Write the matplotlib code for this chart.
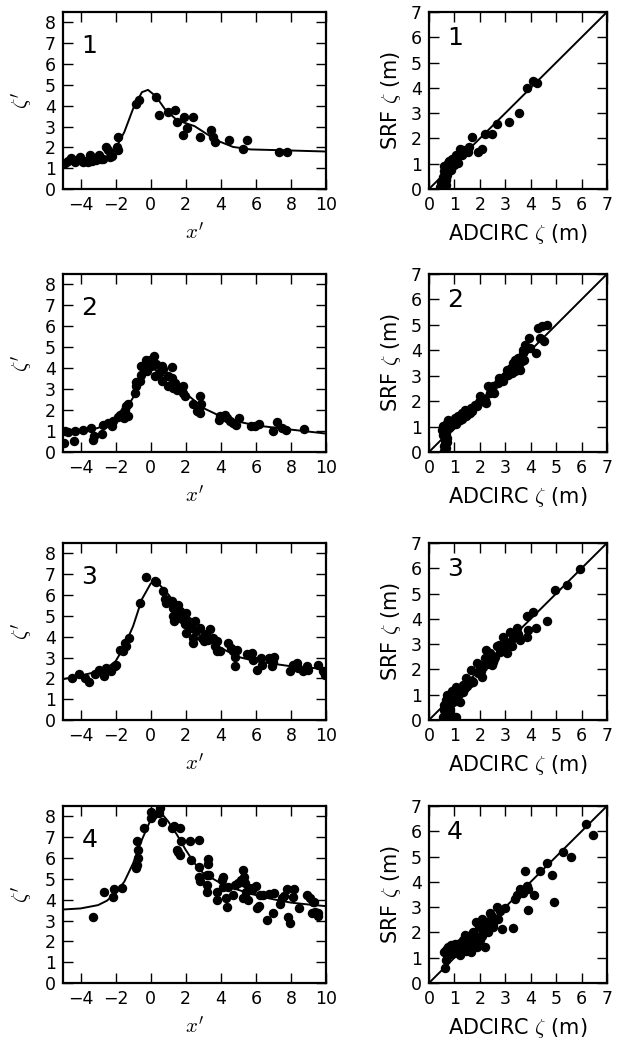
import numpy as np
import matplotlib
matplotlib.use("Agg")
import matplotlib.pyplot as plt

plt.rcParams['font.family'] = ['DejaVu Sans']
plt.rcParams['mathtext.fontset'] = 'cm'

# ---- left column: normalized surge zeta' vs x' (points + fitted curve)
p1_x = [-4.87, -4.52, -4.33, -4.05, -3.86, -3.71, -3.44, -3.32, -3.1, -2.96, -2.81, -2.56, -2.43, -2.33,
        -2.18, -1.92, -1.86, -1.86, -0.81, -0.66, 0.33, 0.48, 1.0, 1.38, 1.48, 1.82, 1.89, 2.08, 2.42,
        2.81, 3.43, 3.57, 3.66, 4.48, 5.28, 5.51, 7.34, 7.79, -4.7, -4.2, -3.55, -3.18, -2.7]
p1_y = [1.27, 1.51, 1.31, 1.55, 1.31, 1.35, 1.63, 1.35, 1.39, 1.63, 1.42, 2.02, 1.86, 1.55,
        1.58, 2.02, 2.5, 1.86, 4.1, 4.29, 4.41, 3.57, 3.7, 3.78, 3.22, 2.58, 3.46, 2.95, 3.46,
        2.5, 2.85, 2.5, 2.26, 2.37, 1.94, 2.37, 1.78, 1.78, 1.35, 1.4, 1.3, 1.5, 1.45]
c1_x = [-5, -4, -3, -2.5, -2, -1.5, -1, -0.5, -0.15, 0.3, 0.8, 1.5, 2.5, 3.0, 3.75, 4.7, 5.7, 7.5, 10]
c1_y = [1.2, 1.3, 1.4, 1.5, 1.94, 2.74, 3.86, 4.65, 4.76, 4.45, 3.85, 3.3, 3.02, 2.75, 2.34, 2.02, 1.9, 1.86, 1.8]

p2_x = [-4.96, -4.9, -4.71, -4.39, -4.33, -3.86, -3.38, -3.29, -3.25, -2.75, -2.72, -2.43, -2.18, -2.14,
        -1.86, -1.76, -1.57, -1.48, -1.38, -1.29, -1.54, -1.29, -0.91, -0.81, -0.85, -0.62, -0.53, -0.53,
        -0.28, -0.24, -0.2, -0.05, 0.04, 0.18, 0.18, 0.23, 0.33, 0.48, 0.62, 0.71, 0.67, 1.0, 1.0, 1.19,
        1.19, 1.28, 1.38, 1.48, 1.82, 1.85, 1.95, 2.39, 2.65, 2.77, 2.8, 2.86, 2.8, 3.91, 3.98, 4.23,
        4.38, 4.52, 4.71, 4.86, 5.05, 5.7, 5.95, 6.19, 6.96, 7.22, 7.47, 7.72, 8.74]
p2_y = [0.43, 0.99, 0.94, 0.51, 0.99, 1.07, 1.15, 0.59, 0.75, 0.88, 1.31, 1.39, 1.23, 1.47,
        1.67, 1.78, 1.86, 2.02, 2.18, 2.31, 1.63, 1.7, 2.82, 3.14, 3.33, 3.38, 3.7, 4.13,
        4.41, 4.1, 3.86, 4.41, 4.1, 4.57, 4.25, 3.62, 4.18, 3.78, 4.1, 3.94, 3.38, 3.62, 3.14, 4.06,
        3.54, 3.06, 3.3, 2.98, 3.14, 2.82, 2.69, 2.31, 1.94, 2.1, 2.66, 2.31, 1.86, 1.55, 1.71, 1.78,
        1.63, 1.47, 1.39, 1.31, 1.63, 1.23, 1.26, 1.35, 0.99, 1.42, 1.15, 1.04, 1.1]
c2_x = [-5, -4, -3, -2, -1.5, -1, -0.5, 0, 0.5, 1, 2, 3, 4, 5, 6, 8, 10]
c2_y = [0.8, 0.95, 1.15, 1.55, 1.95, 2.6, 3.5, 4.0, 3.85, 3.45, 2.8, 2.1, 1.7, 1.45, 1.27, 1.07, 0.88]

p3_x = [-4.47, -4.09, -3.76, -3.52, -3.19, -2.94, -2.68, -2.56, -2.24, -2.05, -1.95, -1.73, -1.57, -1.48,
        -1.38, -1.23, -0.62, -0.24, 0.23, 0.33, 0.71, 0.84, 0.9, 1.19, 1.28, 1.28, 1.32, 1.48, 1.57, 1.66,
        1.76, 1.95, 2.0, 2.04, 2.14, 2.23, 2.39, 2.42, 2.52, 2.61, 2.81, 2.9, 3.03, 3.15, 3.28, 3.38,
        3.57, 3.66, 3.76, 3.8, 3.95, 4.42, 4.56, 4.71, 4.8, 4.8, 4.9, 5.47, 5.76, 5.81, 6.08, 6.27,
        6.33, 6.77, 6.9, 7.03, 6.99, 7.94, 8.14, 8.33, 8.71, 8.9, 9.0, 9.56, 9.85, 9.94, 8.42]
p3_y = [2.01, 2.22, 2.01, 1.82, 2.22, 2.42, 2.09, 2.5, 2.33, 2.58, 2.66, 3.38, 3.3, 3.7,
        3.54, 3.95, 5.64, 6.89, 6.68, 6.63, 6.2, 5.8, 5.6, 5.72, 5.39, 4.99, 4.75, 5.15, 5.51, 5.23,
        4.83, 4.59, 5.15, 4.19, 4.75, 4.43, 3.95, 3.7, 4.75, 4.27, 4.43, 3.95, 3.78, 4.11, 3.86, 4.35,
        3.95, 3.54, 3.78, 3.3, 3.3, 3.7, 3.46, 3.3, 3.03, 2.58, 3.38, 3.19, 3.22, 2.9, 2.38, 2.98,
        2.66, 2.98, 2.58, 3.03, 2.77, 2.33, 2.66, 2.74, 2.33, 2.58, 2.42, 2.66, 2.33, 2.17, 2.5]
c3_x = [-5, -4, -3, -2.5, -2, -1.5, -1, -0.5, 0, 0.15, 0.5, 1, 1.5, 2, 3, 4, 5, 6, 8, 10]
c3_y = [1.96, 2.13, 2.33, 2.5, 2.82, 3.54, 4.51, 5.8, 6.55, 6.65, 6.5, 6.04, 5.48, 4.91, 4.11, 3.46, 3.03, 2.82, 2.58, 2.45]

p4_x = [-3.29, -2.68, -2.14, -2.11, -1.63, -0.81, -0.77, -0.72, -0.77, -0.7, -0.39, 0.01, 0.04, 0.14,
        0.48, 0.56, 0.67, 1.19, 1.32, 1.66, 1.48, 1.57, 1.7, 1.72, 2.23, 2.29, 2.77, 2.77, 2.77, 2.81,
        3.19, 3.23, 3.19, 3.28, 3.28, 3.34, 3.76, 3.76, 4.04, 4.1, 4.14, 4.29, 4.33, 4.42, 4.71, 4.8,
        5.0, 5.13, 5.24, 5.32, 5.38, 5.28, 5.43, 5.57, 5.62, 5.76, 5.85, 6.0, 6.04, 6.19, 6.23, 6.42,
        6.61, 6.76, 6.99, 7.03, 7.37, 7.47, 7.6, 7.75, 7.85, 7.94, 8.14, 8.17, 8.48, 8.9, 9.09, 9.24,
        9.18, 9.37, 9.56, 9.56, 9.32]
p4_y = [3.15, 4.39, 4.14, 4.5, 4.58, 5.51, 5.67, 5.99, 6.8, 6.39, 7.44, 8.21, 7.92, 8.05,
        8.14, 8.4, 7.71, 7.44, 7.52, 7.44, 6.39, 6.27, 6.15, 6.8, 6.8, 5.91, 6.85, 5.59, 5.11, 4.92,
        5.19, 4.71, 4.39, 5.94, 5.72, 5.19, 4.39, 3.98, 4.95, 5.11, 4.63, 4.06, 3.66, 4.63, 4.22, 4.71,
        4.79, 4.95, 5.43, 5.11, 4.79, 4.06, 4.39, 3.98, 4.55, 4.47, 4.55, 4.66, 3.58, 3.69, 4.22, 4.22,
        3.02, 4.27, 3.34, 4.31, 3.79, 4.06, 4.18, 4.5, 3.18, 2.89, 4.11, 4.5, 3.58, 4.22, 4.06, 3.9,
        3.37, 3.42, 3.37, 3.21, 3.9]
c4_x = [-5, -4, -3, -2.5, -2, -1.5, -1, -0.5, 0, 0.48, 1, 1.5, 2, 2.5, 3, 4, 5, 6, 7, 8, 9, 10]
c4_y = [3.53, 3.58, 3.74, 3.95, 4.31, 4.87, 5.75, 6.88, 7.84, 8.29, 7.76, 7.12, 6.39, 5.75, 5.27, 4.79, 4.47, 4.22, 4.02, 3.86, 3.77, 3.69]

# ---- right column: SRF vs ADCIRC surge (m)
s1_x = [0.42, 0.49, 0.55, 0.62, 0.66, 0.71, 0.68, 0.75, 0.82, 0.88, 0.95, 1.01, 1.08, 1.14, 1.21, 1.28,
        1.34, 1.54, 1.58, 1.71, 1.93, 2.07, 2.2, 2.46, 2.68, 3.16, 3.55, 3.87, 4.08, 4.24, 0.62, 0.68,
        0.5, 0.58, 0.72, 0.8, 0.9, 0.6, 0.65, 1.0, 1.12]
s1_y = [0.09, 0.29, 0.48, 0.25, 0.62, 0.81, 0.16, 1.01, 0.88, 0.75, 1.14, 1.21, 1.34, 1.01, 1.6, 1.34,
        1.53, 1.47, 1.66, 2.06, 1.47, 1.6, 2.19, 2.19, 2.56, 2.65, 3.0, 4.0, 4.29, 4.18, 0.09, 0.42,
        0.05, 0.7, 0.55, 1.1, 1.2, 0.9, 0.35, 0.95, 1.25]

s2_x = [0.58, 0.62, 0.66, 0.55, 0.68, 0.71, 0.55, 0.75, 0.88, 0.95, 1.01, 1.14, 1.21, 1.28, 1.41, 1.47,
        1.54, 1.67, 1.8, 1.71, 2.0, 2.13, 2.26, 2.33, 2.39, 2.53, 2.55, 2.76, 2.92, 3.05, 3.12, 3.21,
        3.32, 3.38, 3.45, 3.51, 3.58, 3.64, 3.68, 3.71, 3.78, 3.95, 3.97, 4.21, 4.3, 4.37, 4.53, 4.63,
        4.43, 3.25, 0.6, 0.5, 0.8, 0.7, 0.65, 1.05, 1.3, 1.6, 1.9, 2.2, 2.45, 2.7, 2.85, 3.0, 3.3,
        3.4, 3.55, 3.75, 0.62, 0.72, 1.15, 1.95]
s2_y = [0.22, 0.48, 0.75, 1.01, 0.16, 0.38, 0.68, 1.27, 1.01, 1.14, 1.34, 1.4, 1.27, 1.53, 1.66, 1.4,
        1.51, 1.73, 1.86, 1.6, 2.19, 1.99, 1.93, 2.61, 2.32, 2.58, 2.32, 2.91, 2.78, 3.24, 3.04, 3.3,
        3.5, 3.63, 3.43, 3.69, 3.24, 3.56, 3.89, 4.02, 4.22, 4.48, 4.09, 3.89, 4.88, 4.48, 4.35, 5.01,
        4.94, 3.11, 0.05, 0.85, 0.95, 0.55, 0.9, 1.1, 1.3, 1.55, 1.8, 2.05, 2.45, 2.7, 2.8, 3.0, 3.35,
        3.2, 3.45, 3.6, 0.3, 1.15, 1.2, 1.95]

s3_x = [0.55, 0.66, 0.58, 0.66, 0.75, 0.82, 0.88, 1.08, 1.01, 1.08, 1.21, 1.28, 1.34, 1.41, 1.47, 1.61,
        1.67, 1.74, 1.87, 1.93, 2.07, 2.13, 2.2, 2.26, 2.33, 2.39, 2.46, 2.59, 2.66, 2.76, 2.92, 3.05,
        3.08, 3.18, 3.25, 3.32, 3.45, 3.58, 3.84, 3.87, 3.91, 4.1, 4.21, 4.63, 4.96, 5.42, 5.92, 0.82,
        0.95, 0.7, 1.15, 2.0, 2.5, 0.6, 0.9, 1.05, 1.2, 1.5, 1.7, 2.05, 2.3, 2.55, 2.8, 3.0, 3.2,
        3.5, 0.72, 1.35, 2.2]
s3_y = [0.13, 0.33, 0.59, 0.79, 0.92, 0.42, 0.16, 0.13, 1.06, 1.32, 0.73, 1.19, 1.39, 1.25, 1.65, 1.45,
        1.98, 1.52, 2.25, 1.85, 1.72, 2.11, 2.44, 2.77, 2.38, 2.64, 2.18, 2.51, 2.91, 2.97, 3.3, 3.04,
        2.64, 3.5, 2.91, 3.24, 3.63, 3.17, 3.3, 4.1, 3.57, 4.29, 3.63, 3.9, 5.15, 5.35, 5.97, 0.59,
        0.73, 1.0, 1.0, 2.0, 2.3, 0.4, 1.15, 0.9, 1.05, 1.35, 1.55, 1.95, 2.2, 2.4, 2.7, 2.8, 3.1,
        3.4, 0.3, 1.1, 2.25]

s4_x = [0.62, 0.68, 0.66, 0.75, 0.88, 1.01, 0.95, 1.14, 1.21, 1.34, 1.47, 1.41, 1.61, 1.67, 1.74, 1.84,
        1.87, 2.0, 2.07, 2.13, 2.2, 2.33, 2.39, 2.53, 2.66, 2.72, 2.89, 2.99, 3.32, 3.38, 3.47, 3.58,
        3.68, 3.78, 3.84, 3.91, 3.91, 4.13, 4.37, 4.63, 4.83, 4.92, 5.26, 5.58, 6.18, 6.45, 0.58, 0.82,
        1.3, 1.55, 1.9, 2.25, 0.7, 0.9, 1.1, 1.2, 1.35, 1.5, 1.65, 1.8, 1.95, 2.1, 2.3, 2.5, 1.0,
        1.25, 1.45, 1.7, 2.45, 2.8]
s4_y = [0.61, 0.9, 1.29, 1.43, 1.49, 1.56, 1.36, 1.29, 1.1, 1.43, 1.49, 1.89, 1.69, 1.23, 2.02, 2.42,
        1.43, 1.69, 2.55, 2.09, 1.43, 2.02, 2.75, 2.22, 3.01, 2.55, 2.15, 2.95, 2.19, 3.34, 3.47, 3.7,
        3.57, 4.44, 3.83, 2.88, 3.7, 3.47, 4.44, 4.76, 4.27, 3.21, 5.19, 4.99, 6.27, 5.85, 1.23, 1.16,
        1.6, 1.35, 1.8, 2.3, 1.35, 1.3, 1.45, 1.6, 1.7, 1.55, 1.9, 1.5, 2.2, 1.85, 2.4, 2.35, 1.2,
        1.35, 1.25, 1.6, 2.7, 2.85]

one_to_one = [0, 7]

left_pts = [(p1_x, p1_y), (p2_x, p2_y), (p3_x, p3_y), (p4_x, p4_y)]
left_curves = [(c1_x, c1_y), (c2_x, c2_y), (c3_x, c3_y), (c4_x, c4_y)]
right_pts = [(s1_x, s1_y), (s2_x, s2_y), (s3_x, s3_y), (s4_x, s4_y)]
panel_labels = ['1', '2', '3', '4']

W, H = 617.0, 1042.0
rows = [(12, 189), (274, 452), (543, 720), (806, 983)]

fig = plt.figure(figsize=(W / 100, H / 100), dpi=100)


def style(ax):
    for s in ax.spines.values():
        s.set_linewidth(1.6)
    ax.tick_params(direction='in', length=7, width=1, top=True, right=True,
                   labelsize=12.5, pad=5)


for i in range(4):
    top, bot = rows[i]
    # left panel
    ax = fig.add_axes([63 / W, 1 - bot / H, 263 / W, (bot - top) / H])
    ax.plot(left_curves[i][0], left_curves[i][1], 'k-', lw=1.4)
    ax.plot(left_pts[i][0], left_pts[i][1], 'ko', ms=5.8, mec='k')
    ax.set_xlim(-5, 10)
    ax.set_ylim(0, 8.5)
    ax.set_xticks([-4, -2, 0, 2, 4, 6, 8, 10])
    ax.set_yticks(range(9))
    ax.set_xlabel(r"$x'$", fontsize=15, labelpad=6)
    ax.set_ylabel(r"$\zeta'$", fontsize=15, labelpad=7)
    ax.text(0.07, 0.77, panel_labels[i], transform=ax.transAxes, fontsize=18,
            ha='left', va='baseline')
    style(ax)

    # right panel
    ax = fig.add_axes([429 / W, 1 - bot / H, 178 / W, (bot - top) / H])
    ax.plot(one_to_one, one_to_one, 'k-', lw=1.4)
    ax.plot(right_pts[i][0], right_pts[i][1], 'ko', ms=5.8, mec='k')
    ax.set_xlim(0, 7)
    ax.set_ylim(0, 7)
    ax.set_xticks(range(8))
    ax.set_yticks(range(8))
    ax.set_xlabel(r"ADCIRC $\zeta$ (m)", fontsize=15, labelpad=6)
    ax.set_ylabel(r"SRF $\zeta$ (m)", fontsize=15, labelpad=6)
    ax.text(0.1, 0.815, panel_labels[i], transform=ax.transAxes, fontsize=18,
            ha='left', va='baseline')
    style(ax)

fig.savefig('out.png', dpi=100)
